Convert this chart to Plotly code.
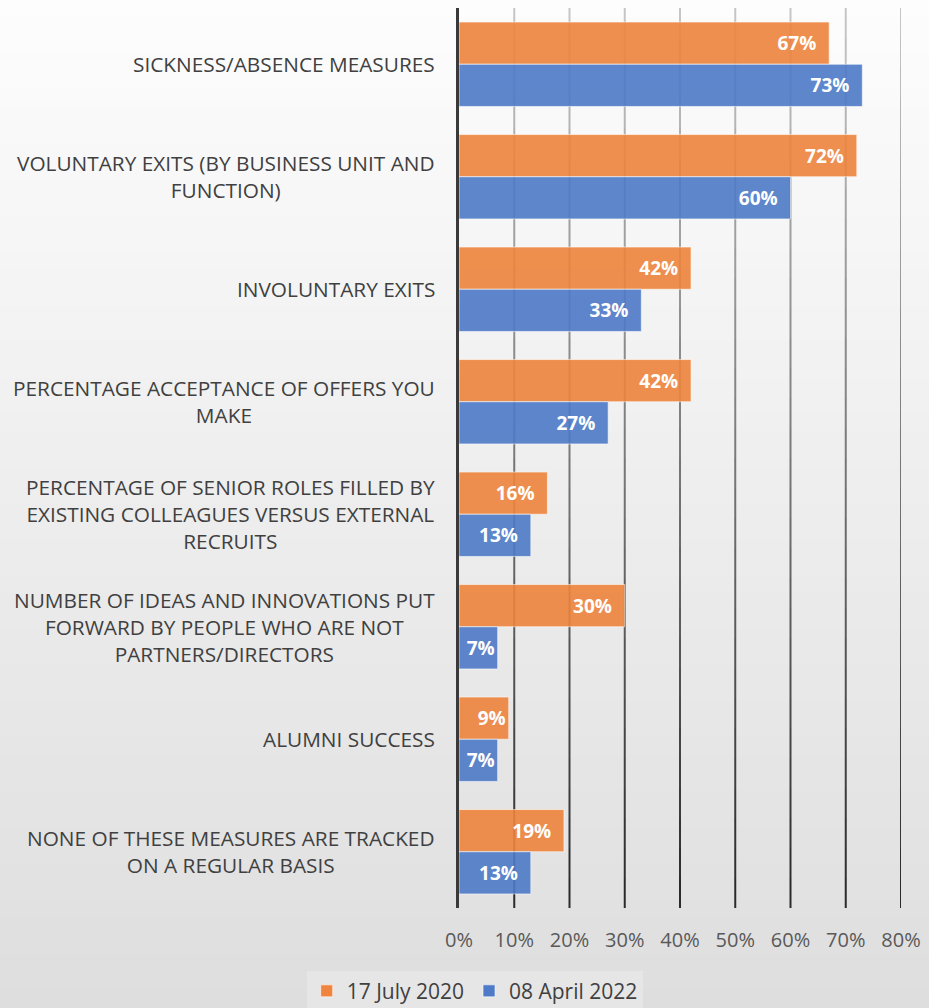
import plotly.graph_objects as go

# ---- data ----
categories = [
    "SICKNESS/ABSENCE MEASURES",
    "VOLUNTARY EXITS (BY BUSINESS UNIT AND<br>FUNCTION)",
    "INVOLUNTARY EXITS",
    "PERCENTAGE ACCEPTANCE OF OFFERS YOU<br>MAKE",
    "PERCENTAGE OF SENIOR ROLES FILLED BY<br>EXISTING COLLEAGUES VERSUS EXTERNAL<br>RECRUITS",
    "NUMBER OF IDEAS AND INNOVATIONS PUT<br>FORWARD BY PEOPLE WHO ARE NOT<br>PARTNERS/DIRECTORS",
    "ALUMNI SUCCESS",
    "NONE OF THESE MEASURES ARE TRACKED<br>ON A REGULAR BASIS",
]
july_2020 = [67, 72, 42, 42, 16, 30, 9, 19]
april_2022 = [73, 60, 33, 27, 13, 7, 7, 13]
series_names = ["17 July 2020", "08 April 2022"]
x_ticks = [0, 10, 20, 30, 40, 50, 60, 70, 80]

# ---- geometry helpers ----
W, H = 929, 1008
M = dict(l=459, r=23, t=8, b=100)
PW = W - M["l"] - M["r"]
PH = H - M["t"] - M["b"]


def paper_x(px):
    return (px - M["l"]) / PW


def paper_y(py):
    return (H - M["b"] - py) / PH


def bg_level(py):
    return 253 - 31 * py / H


def bar_label(v):
    # two-digit labels sit a little further in from the bar end
    return f"{v}%" + ("\u00a0\u00a0" if v >= 10 else "")


FONT = "Open Sans, Lato, DejaVu Sans, sans-serif"
ORANGE = "#EE843D"
BLUE = "#4E7AC7"

fig = go.Figure()
for name, vals, col in [(series_names[0], july_2020, ORANGE),
                        (series_names[1], april_2022, BLUE)]:
    fig.add_trace(go.Bar(
        name=name,
        y=categories,
        x=vals,
        orientation="h",
        marker=dict(color=col, opacity=0.9,
                    line=dict(color="rgba(255,255,255,0.6)", width=1)),
        text=[bar_label(v) for v in vals],
        texttemplate="%{text}",
        textposition="inside",
        insidetextanchor="end",
        textangle=0,
        constraintext="none",
        textfont=dict(family=FONT, size=19, color="white", weight="bold"),
        hoverinfo="skip",
    ))

shapes = []

# soft vertical gradient behind everything
N = 56
for i in range(N):
    y_top = i * H / N
    y_bot = (i + 1) * H / N
    lv = round(bg_level((y_top + y_bot) / 2))
    shapes.append(dict(
        type="rect", xref="paper", yref="paper", layer="below",
        x0=paper_x(-30), x1=paper_x(W + 30),
        y0=paper_y(y_bot + 0.5), y1=paper_y(y_top - 0.5),
        fillcolor=f"rgb({lv},{lv},{lv})", line=dict(width=0),
    ))

# vertical gridlines that darken toward the bottom
G = 30
for tv in x_ticks[1:]:
    for j in range(G):
        top = M["t"] + j * PH / G
        bot = M["t"] + (j + 1) * PH / G
        frac = ((top + bot) / 2 - M["t"]) / PH
        g = round(200 - 160 * frac)
        shapes.append(dict(
            type="line", xref="x", yref="paper", layer="below",
            x0=tv, x1=tv, y0=paper_y(bot), y1=paper_y(top),
            line=dict(color=f"rgb({g},{g},{g})", width=2),
        ))

annotations = [
    dict(x=0, xref="paper", y=c, yref="y", text=c, showarrow=False,
         xanchor="right", xshift=-22, align="center",
         font=dict(family=FONT, size=20.8, color="#404040"))
    for c in categories
]

fig.update_layout(
    width=W, height=H,
    margin=M,
    paper_bgcolor="rgba(0,0,0,0)",
    plot_bgcolor="rgba(0,0,0,0)",
    barmode="group",
    bargap=0.25,
    bargroupgap=0.0,
    uniformtext=dict(minsize=19, mode="show"),
    shapes=shapes,
    annotations=annotations,
    xaxis=dict(
        range=[0, 80],
        tickvals=x_ticks,
        ticktext=[f"{v}%" for v in x_ticks],
        showgrid=False,
        zeroline=False, showline=False,
        ticks="", ticklabelstandoff=18,
        ticklabeloverflow="allow",
        tickfont=dict(family=FONT, size=20, color="#595959"),
        fixedrange=True,
    ),
    yaxis=dict(
        autorange="reversed",
        showticklabels=False, showgrid=False,
        showline=True, linecolor="#3a3a3a", linewidth=3,
        layer="above traces", zeroline=False, ticks="",
    ),
    legend=dict(
        orientation="h", traceorder="normal",
        xref="container", yref="container",
        x=0.511, xanchor="center", y=0.037, yanchor="top",
        bgcolor="#e6e6e6",
        font=dict(family=FONT, size=21, color="#404040"),
        itemclick=False,
    ),
    showlegend=True,
)

fig.write_html("out.html")
